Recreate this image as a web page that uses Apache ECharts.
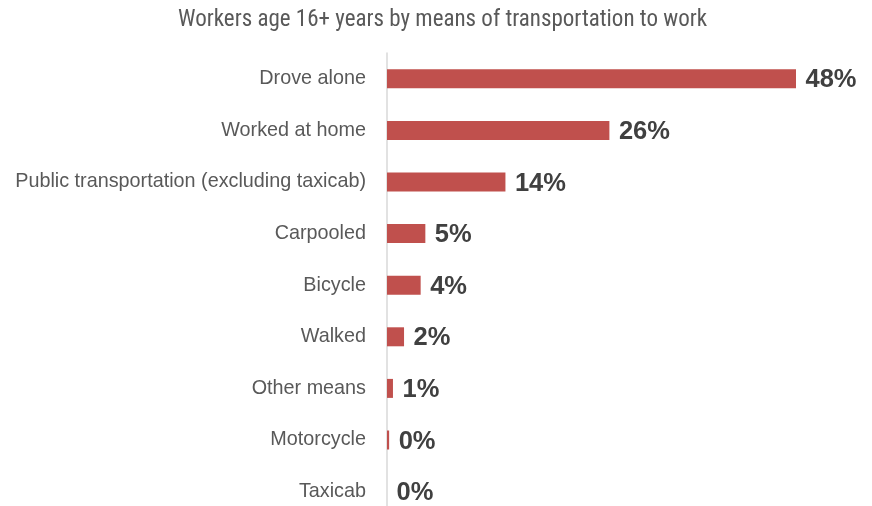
<!DOCTYPE html>
<html>
<head>
<meta charset="utf-8">
<script src="https://cdn.jsdelivr.net/npm/echarts@6/dist/echarts.min.js"></script>
<style>html,body{margin:0;padding:0;background:#fff;}#c{width:872px;height:506px;}</style>
</head>
<body>
<div id="c"></div>
<script>
const titleText = "Workers age 16+ years by means of transportation to work";
const categories = ["Drove alone","Worked at home","Public transportation (excluding taxicab)","Carpooled","Bicycle","Walked","Other means","Motorcycle","Taxicab"];
const shares = [48, 26.1, 13.9, 4.5, 3.95, 2.0, 0.7, 0.25, 0];

const chart = echarts.init(document.getElementById('c'), null, {renderer:'canvas'});
chart.setOption({
  animation: false,
  title: {
    text: titleText,
    left: 173,
    top: 4,
    textStyle: {fontFamily: "'Roboto Condensed','Liberation Sans Narrow','Arial Narrow','DejaVu Sans Condensed',sans-serif", fontWeight: 'normal', fontSize: 23, color: '#595959'}
  },
  grid: {left: 387, width: 409, top: 53, height: 464.4, containLabel: false, outerBoundsMode: 'none'},
  xAxis: {type: 'value', min: 0, max: 48, show: false},
  yAxis: {
    type: 'category', data: categories, inverse: true,
    axisLine: {show: true, lineStyle: {color: '#d9d9d9', width: 1.5}},
    axisTick: {show: false},
    axisLabel: {fontFamily: "Arial, Liberation Sans, sans-serif", fontSize: 19.8, color: '#595959', margin: 21}
  },
  series: [{
    type: 'bar', data: shares, barWidth: 19, z: 1,
    itemStyle: {color: '#c0504d'},
    label: {
      show: true, position: 'right', distance: 9.5, offset: [0, 1.5],
      fontFamily: "Arial, Liberation Sans, sans-serif", fontWeight: 'bold', fontSize: 25.5, color: '#404040',
      formatter: p => Math.round(p.value) + '%'
    }
  }]
});
</script>
</body>
</html>
